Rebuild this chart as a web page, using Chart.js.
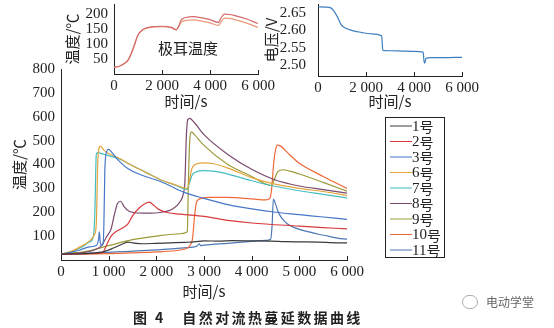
<!DOCTYPE html>
<html>
<head>
<meta charset="utf-8">
<script src="https://cdn.jsdelivr.net/npm/chart.js@4.4.0/dist/chart.umd.min.js"></script>
<style>
  body { margin: 0; background: #fff; }
  #wrap { position: relative; width: 554px; height: 328px; overflow: hidden; }
  canvas { position: absolute; }
  #main { left: 0; top: 0; }
  #c1 { left: 60px; top: -11px; }
  #c2 { left: 260px; top: -17px; }
  .txt { position: absolute; font-family: "Noto Sans CJK SC", sans-serif; color: #222; white-space: nowrap; }
  #tab { left: 158px; top: 37px; font-size: 15px; }
  #cap { left: 133px; top: 307px; font-size: 14px; font-weight: bold; letter-spacing: 2.4px; }
  #wm { left: 486px; top: 293px; font-size: 12px; color: #666; }
  #wmi { position: absolute; left: 462px; top: 295px; width: 14px; height: 12px; border: 1px solid #aaa; border-radius: 7px; }
</style>
</head>
<body>
<div id="wrap">
  <canvas id="main" width="554" height="328"></canvas>
  <canvas id="c1" width="220" height="121"></canvas>
  <canvas id="c2" width="224" height="127"></canvas>
  <div class="txt" id="tab">极耳温度</div>
  <div class="txt" id="cap">图 4&nbsp;&nbsp;&nbsp;自然对流热蔓延数据曲线</div>
  <div id="wmi"></div>
  <div class="txt" id="wm">电动学堂</div>
</div>
<script>
// ---- data (time s, value) ----
const names = ['1号', '2号', '3号', '6号', '7号', '8号', '9号', '10号', '11号'];
const colors = ['#3a3a3a', '#d93a3c', '#4677c8', '#e3a43b', '#45bdc0', '#7b4a6e', '#9c9a3a', '#ef6a3a', '#4e78b5'];

const s1 = [[0,25],[600,28],[900,35],[1100,50],[1300,68],[1400,75],[1500,72],[1700,68],[2000,70],[2300,72],[2600,74],[2800,76],[3000,80],[3300,79],[3600,81],[4000,80],[4400,79],[4700,77],[5000,76],[5400,75],[5800,72],[6000,72]];
const s2 = [[0,25],[800,28],[880,32],[950,60],[1050,100],[1150,118],[1300,135],[1400,150],[1500,185],[1650,220],[1800,240],[1850,242],[1950,228],[2050,212],[2200,200],[2500,192],[3000,183],[3500,166],[4000,155],[5000,142],[5500,136],[6000,130]];
const s3 = [[0,25],[200,32],[400,42],[600,55],[750,62],[790,90],[805,118],[820,80],[840,62],[880,65],[900,150],[920,380],[960,455],[1000,463],[1060,452],[1200,418],[1400,383],[1700,355],[2100,328],[2600,282],[3000,258],[3500,232],[4000,214],[4500,200],[5000,190],[5500,180],[6000,170]];
const s6 = [[0,25],[200,35],[400,55],[600,80],[700,105],[740,150],[770,400],[800,470],[830,477],[900,460],[1000,446],[1200,428],[1500,395],[1800,365],[2100,335],[2400,315],[2650,300],[2700,340],[2750,385],[2850,403],[3000,407],[3200,403],[3500,385],[4000,345],[4400,322],[5000,300],[5500,287],[6000,270]];
const s7 = [[0,25],[200,33],[400,50],[600,75],[680,100],[710,200],[740,440],[760,450],[900,443],[1000,437],[1200,425],[1500,395],[1800,365],[2100,335],[2400,313],[2650,296],[2700,325],[2750,355],[2850,370],[3000,374],[3200,372],[3500,360],[4000,332],[4400,312],[5000,290],[5500,275],[6000,260]];
const s8 = [[0,25],[500,32],[700,42],[850,60],[950,95],[1050,130],[1120,190],[1180,235],[1250,246],[1320,225],[1420,205],[1550,198],[1800,196],[2100,200],[2350,215],[2500,245],[2570,280],[2600,330],[2630,520],[2660,588],[2700,593],[2800,575],[3000,525],[3500,442],[4000,380],[4500,335],[5000,310],[5500,295],[6000,280]];
const s9 = [[0,25],[500,35],[1000,60],[1500,85],[2000,100],[2500,110],[2650,118],[2670,300],[2700,500],[2740,537],[2800,525],[3000,480],[3500,400],[4000,350],[4300,318],[4400,312],[4450,325],[4550,370],[4650,378],[4800,372],[5000,360],[5500,325],[6000,288]];
const s10 = [[0,25],[1000,27],[1500,30],[2000,34],[2500,42],[2650,50],[2720,65],[2760,90],[2800,180],[2840,240],[2900,255],[3100,262],[3500,262],[4000,256],[4300,252],[4380,258],[4420,300],[4460,400],[4500,460],[4540,481],[4600,478],[4800,440],[5000,405],[5500,350],[6000,300]];
const s11 = [[0,25],[1000,32],[2000,42],[2500,50],[2850,58],[2900,68],[2930,60],[3000,62],[3500,70],[4000,78],[4300,82],[4400,88],[4430,150],[4455,255],[4500,235],[4550,205],[4600,185],[4700,160],[4800,145],[5000,128],[5200,118],[5400,108],[5600,100],[5800,92],[6000,87]];
const mainSeries = [s1, s2, s3, s6, s7, s8, s9, s10, s11];

// inset: tab temperature (two probes)
const tabA = [[0,22],[200,25],[400,33],[600,48],[800,85],[1000,130],[1200,148],[1500,156],[2000,159],[2400,155],[2600,148],[2700,160],[2800,180],[3000,188],[3300,191],[3700,186],[4000,181],[4350,172],[4450,185],[4600,199],[4800,198],[5000,195],[5500,184],[6000,168]];
const tabB = [[0,22],[200,25],[400,33],[600,48],[800,85],[1000,130],[1200,147],[1500,155],[2000,158],[2400,153],[2600,147],[2700,158],[2800,172],[3000,178],[3300,180],[3700,175],[4000,170],[4350,162],[4450,172],[4600,186],[4800,185],[5000,182],[5500,170],[6000,155]];
// inset: voltage
const volt = [[0,2.668],[300,2.667],[550,2.664],[650,2.657],[800,2.640],[950,2.618],[1100,2.608],[1400,2.600],[1800,2.594],[2200,2.590],[2650,2.584],[2680,2.560],[2700,2.542],[3000,2.541],[3500,2.540],[4000,2.539],[4380,2.537],[4420,2.510],[4450,2.505],[4500,2.519],[4700,2.521],[5200,2.521],[6000,2.522]];

const xTicksMain = [0, 1000, 2000, 3000, 4000, 5000, 6000];
const yTicksMain = [100, 200, 300, 400, 500, 600, 700, 800];
const xTicksInset = [0, 2000, 4000, 6000];
const yTicksTab = [50, 100, 150, 200];
const yTicksVolt = [2.50, 2.55, 2.60, 2.65];

// ---- helpers ----
const serif = '"Liberation Serif", "Times New Roman", serif';
const cjk = '"Noto Sans CJK SC", sans-serif';
const ink = '#222';

function fmtThousand(v) {
  return v === 0 ? '0' : (v / 1000) + ' 000';
}
function pts(arr) {
  return arr.map(p => ({ x: p[0], y: p[1] }));
}
function fixTicks(list) {
  return s => { s.ticks = list.map(v => ({ value: v })); };
}

// small tick marks pointing into the plot on the x axis
const innerTicks = {
  id: 'innerTicks',
  afterDraw(chart) {
    const sx = chart.scales.x, c = chart.ctx;
    c.save();
    c.strokeStyle = ink;
    c.lineWidth = 1;
    sx.ticks.forEach(t => {
      const px = Math.round(sx.getPixelForValue(t.value)) + 0.5;
      c.beginPath();
      c.moveTo(px, sx.top);
      c.lineTo(px, sx.top - 4);
      c.stroke();
    });
    c.restore();
  }
};

const legendBox = {
  id: 'legendBox',
  afterDraw(chart) {
    const c = chart.ctx;
    c.save();
    c.strokeStyle = ink;
    c.lineWidth = 1;
    c.strokeRect(385.5, 117.5, 59, 140);
    c.textBaseline = 'middle';
    chart.data.datasets.forEach((d, i) => {
      const y = 126 + i * 15.5;
      c.strokeStyle = d.borderColor;
      c.beginPath();
      c.moveTo(390, y);
      c.lineTo(412, y);
      c.stroke();
      c.fillStyle = ink;
      const num = d.label.replace('号', '');
      c.font = '15px ' + serif;
      c.fillText(num, 412, y + 1);
      const w = c.measureText(num).width;
      c.font = '14px ' + cjk;
      c.fillText('号', 412 + w, y + 1);
    });
    c.restore();
  }
};

function axisX(ticks, h, titlePad) {
  return {
    type: 'linear', min: 0, max: 6000,
    afterBuildTicks: fixTicks(ticks),
    afterFit(s) { s.height = h; },
    grid: { display: false, drawTicks: false },
    border: { color: ink, width: 1 },
    ticks: { callback: fmtThousand, font: { family: serif, size: 15 }, color: ink, padding: 3, maxRotation: 0, autoSkip: false },
    title: { display: true, text: '时间/s', font: { family: cjk, size: 15 }, color: ink, padding: titlePad }
  };
}
function axisY(min, max, ticks, w, fmt, title, titlePad, tickPad) {
  return {
    min: min, max: max,
    afterBuildTicks: fixTicks(ticks),
    afterFit(s) { s.width = w; },
    grid: { display: false, drawTicks: false },
    border: { color: ink, width: 1 },
    ticks: { callback: fmt, font: { family: serif, size: 15 }, color: ink, padding: tickPad, autoSkip: false },
    title: { display: true, text: title, font: { family: cjk, size: 15 }, color: ink, padding: titlePad }
  };
}
const baseOpts = {
  responsive: false,
  animation: false,
  plugins: { legend: { display: false }, tooltip: { enabled: false } },
  elements: { point: { radius: 0 }, line: { borderWidth: 1.2, cubicInterpolationMode: 'monotone' } }
};

function drawAll() {
  // ---- main chart ----
  new Chart(document.getElementById('main'), {
    type: 'line',
    data: {
      datasets: mainSeries.map((s, i) => ({
        label: names[i],
        data: pts(s),
        borderColor: colors[i],
        backgroundColor: colors[i]
      }))
    },
    options: Object.assign({}, baseOpts, {
      layout: { padding: { left: 0, top: 69, right: 207, bottom: 28 } },
      scales: {
        x: axisX(xTicksMain, 40, 0),
        y: axisY(0, 800, yTicksMain, 61, v => v, '温度/℃', { top: 10, bottom: 0 }, 6)
      }
    }),
    plugins: [innerTicks, legendBox]
  });

  // ---- inset: tab temperature ----
  // plot top ends up at 9 + tick padding (canvas shifted up to compensate)
  new Chart(document.getElementById('c1'), {
    type: 'line',
    data: {
      datasets: [
        { data: pts(tabA), borderColor: '#d4696a' },
        { data: pts(tabB), borderColor: '#eb9a7c' }
      ]
    },
    options: Object.assign({}, baseOpts, {
      layout: { padding: { left: 0, top: 0, right: 22, bottom: 0 } },
      scales: {
        x: axisX(xTicksInset, 36, 0),
        y: axisY(0, 233, yTicksTab, 54, v => v, '温度/℃', { top: 3, bottom: 0 }, 6)
      }
    }),
    plugins: [innerTicks]
  });

  // ---- inset: voltage ----
  new Chart(document.getElementById('c2'), {
    type: 'line',
    data: {
      datasets: [{ data: pts(volt), borderColor: '#3f7fc1' }]
    },
    options: Object.assign({}, baseOpts, {
      layout: { padding: { left: 0, top: 0, right: 22, bottom: 0 } },
      scales: {
        x: axisX(xTicksInset, 34, 0),
        y: axisY(2.468, 2.676, yTicksVolt, 58, v => v.toFixed(2), '电压/V', { top: 2, bottom: 0 }, 12)
      }
    }),
    plugins: [innerTicks]
  });
}

Promise.all([
  document.fonts.load('15px "Liberation Serif"', '0123456789'),
  document.fonts.load('15px "Noto Sans CJK SC"', '时间温度电压号')
]).then(drawAll, drawAll);
</script>
</body>
</html>
